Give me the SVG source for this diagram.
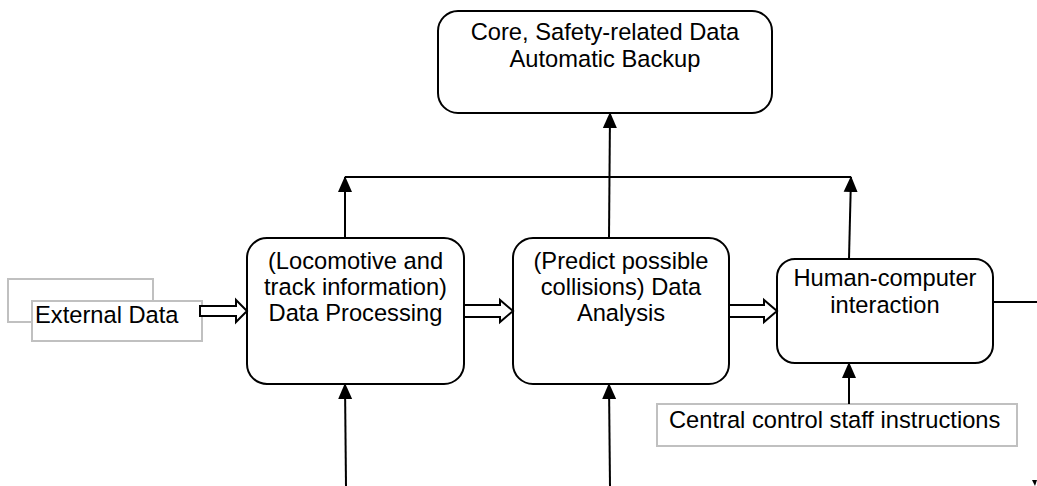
<svg xmlns="http://www.w3.org/2000/svg" width="1037" height="486" viewBox="0 0 1037 486">
<style>
.box{fill:#fff;stroke:#000;stroke-width:2}
.gbox{fill:#fff;stroke:#c0c0c0;stroke-width:2}
.t{font-family:"Liberation Sans",Arial,sans-serif;font-size:23.7px;fill:#000}
.c{text-anchor:middle}
.ln{fill:none;stroke:#000;stroke-width:2}
.hol{fill:#fff;stroke:#000;stroke-width:2;stroke-linejoin:miter}
</style>
<defs>
<marker id="ah" markerUnits="userSpaceOnUse" markerWidth="16" markerHeight="16" viewBox="0 0 16 16" refX="15" refY="8" orient="auto">
<path d="M0,1 L16,8 L0,15 Z" fill="#000"/>
</marker>
</defs>
<g id="backup">
<rect class="box" x="438" y="11" width="334" height="102" rx="20"/>
<text class="t c" x="605" y="40">Core, Safety-related Data</text>
<text class="t c" x="605" y="67">Automatic Backup</text>
</g>
<g id="external">
<rect class="gbox" x="8" y="279" width="145" height="43"/>
<rect class="gbox" x="32" y="301" width="170" height="40"/>
<text class="t" x="35" y="323">External Data</text>
</g>
<g id="processing">
<rect class="box" x="247" y="238" width="217" height="146" rx="20"/>
<text class="t c" x="355.5" y="269">(Locomotive and</text>
<text class="t c" x="355.5" y="295">track information)</text>
<text class="t c" x="355.5" y="321">Data Processing</text>
</g>
<g id="analysis">
<rect class="box" x="513" y="238" width="216" height="146" rx="20"/>
<text class="t c" x="621" y="269">(Predict possible</text>
<text class="t c" x="621" y="295">collisions) Data</text>
<text class="t c" x="621" y="321">Analysis</text>
</g>
<g id="hci">
<rect class="box" x="777" y="259" width="216" height="104" rx="18"/>
<text class="t c" x="885" y="286">Human-computer</text>
<text class="t c" x="885" y="313">interaction</text>
</g>
<g id="staff">
<rect class="gbox" x="657" y="404" width="360" height="42"/>
<text class="t" x="669" y="428">Central control staff instructions</text>
</g>
<g id="connectors">
<path class="hol" d="M200,306 L236,306 L236,300 L247,311 L236,322 L236,316 L200,316 Z"/>
<path class="hol" d="M464,305 L500,305 L500,300 L513,311 L500,322 L500,317 L464,317 Z"/>
<path class="hol" d="M729,305 L764,305 L764,300 L777,311 L764,322 L764,317 L729,317 Z"/>
<line class="ln" x1="345" y1="238" x2="345" y2="177" marker-end="url(#ah)"/>
<line class="ln" x1="345" y1="177" x2="851" y2="177"/>
<line class="ln" x1="849" y1="259" x2="851" y2="177" marker-end="url(#ah)"/>
<line class="ln" x1="609" y1="238" x2="610" y2="113" marker-end="url(#ah)"/>
<line class="ln" x1="346" y1="486" x2="345" y2="384" marker-end="url(#ah)"/>
<line class="ln" x1="610" y1="486" x2="609" y2="384" marker-end="url(#ah)"/>
<line class="ln" x1="849" y1="404" x2="849" y2="363" marker-end="url(#ah)"/>
<line class="ln" x1="993" y1="302" x2="1037" y2="302"/>
<path d="M1032,480 L1037,480 L1035,486 Z" fill="#000"/>
</g>
</svg>
